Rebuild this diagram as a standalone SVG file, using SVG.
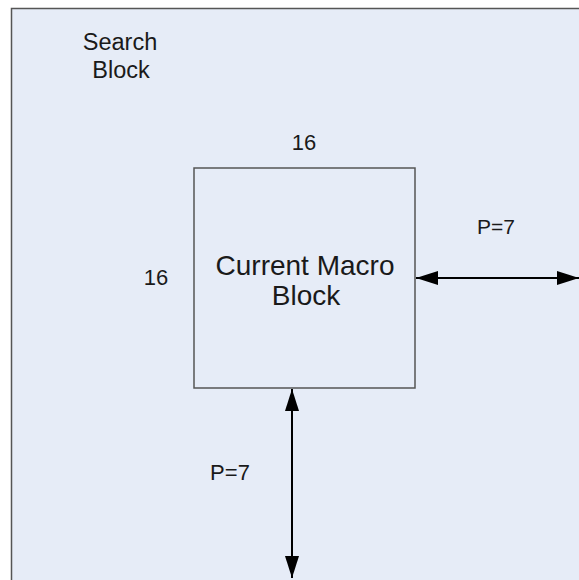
<svg xmlns="http://www.w3.org/2000/svg" width="579" height="580" viewBox="0 0 579 580">
  <style>
    .lbl { font-family: "Liberation Sans", Arial, sans-serif; fill: #1a1a1a; text-anchor: middle; }
    .box { fill: #E6ECF7; stroke: #555555; stroke-width: 1.5; }
    .conn { stroke: #000000; stroke-width: 2; fill: none; }
  </style>
  <defs>
    <marker id="arr" viewBox="0 0 22 14" refX="22" refY="7" markerWidth="22" markerHeight="14" markerUnits="userSpaceOnUse" orient="auto-start-reverse">
      <path d="M0,0 L22,7 L0,14 Z" fill="#000000"/>
    </marker>
  </defs>
  <rect width="579" height="580" fill="#ffffff"/>
  <g id="search-block">
    <rect class="box" x="11.5" y="8.5" width="580" height="590" stroke-width="2"/>
    <text class="lbl" x="120" y="50" font-size="23.5">Search</text>
    <text class="lbl" x="121" y="78" font-size="23.5">Block</text>
  </g>
  <g id="current-macro-block">
    <rect class="box" x="194" y="168" width="221" height="220"/>
    <text class="lbl" x="305" y="275" font-size="28">Current Macro</text>
    <text class="lbl" x="306" y="305" font-size="28">Block</text>
    <text class="lbl" x="304" y="150" font-size="22">16</text>
    <text class="lbl" x="156" y="285" font-size="22">16</text>
  </g>
  <g id="connectors">
    <line class="conn" x1="416" y1="278" x2="579" y2="278" marker-start="url(#arr)" marker-end="url(#arr)"/>
    <line class="conn" x1="292" y1="389" x2="292" y2="578" marker-start="url(#arr)" marker-end="url(#arr)"/>
    <text class="lbl" x="496" y="234" font-size="21">P=7</text>
    <text class="lbl" x="230" y="480" font-size="22">P=7</text>
  </g>
</svg>
